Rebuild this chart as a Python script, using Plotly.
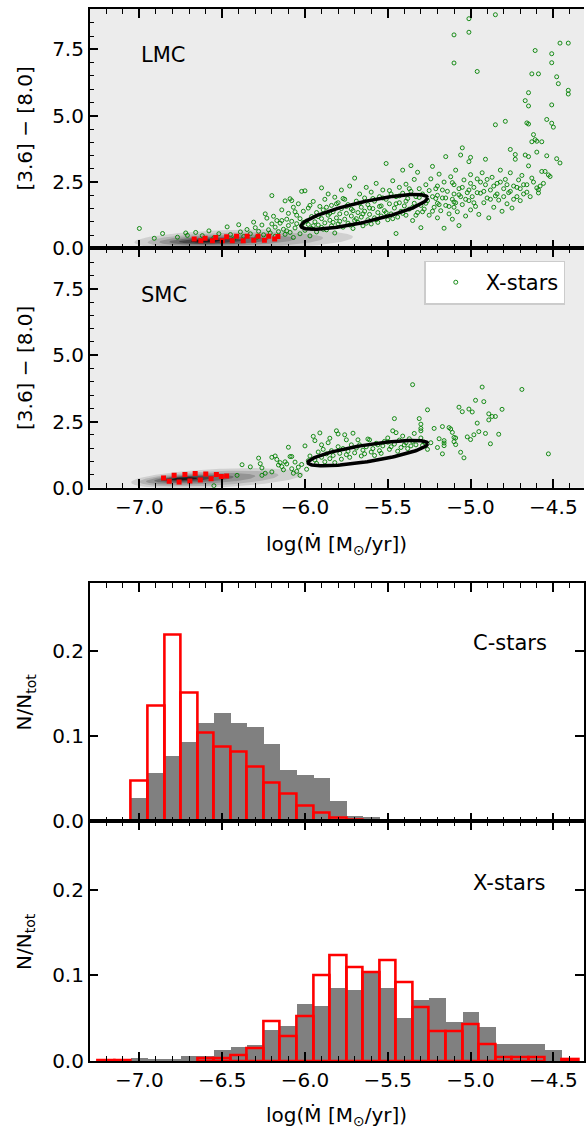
import numpy as np
import plotly.graph_objects as go

# ---------------- data ----------------
# LMC X-stars: (log Mdot, [3.6]-[8.0])
lmc_xstars = [
    (-7.00, 0.75), (-6.91, 0.38), (-6.86, 0.56), (-6.77, 0.42), (-6.72, 0.58), (-6.71, 0.49), (-6.66, 0.60),
    (-6.62, 0.48), (-6.58, 0.66), (-6.55, 0.40), (-6.52, 0.55),
    (-6.47, 0.81), (-6.45, 0.52), (-6.43, 0.36), (-6.40, 0.89), (-6.39, 0.62), (-6.37, 0.45), (-6.35, 0.71),
    (-6.33, 0.55), (-6.31, 0.99), (-6.30, 0.78), (-6.29, 0.42), (-6.28, 0.64), (-6.26, 0.88), (-6.25, 0.51),
    (-6.24, 1.30), (-6.23, 1.14), (-6.22, 0.70), (-6.21, 0.58), (-6.20, 1.99), (-6.20, 0.92), (-6.19, 1.21),
    (-6.18, 0.46), (-6.18, 0.80), (-6.17, 1.05), (-6.16, 0.63),
    (-6.15, 0.95), (-6.14, 1.45), (-6.13, 0.72), (-6.12, 1.79), (-6.12, 0.53), (-6.11, 1.10), (-6.10, 0.86),
    (-6.10, 1.32), (-6.09, 1.87), (-6.09, 0.60), (-6.08, 1.02), (-6.07, 0.41), (-6.07, 1.55), (-6.06, 0.77),
    (-6.05, 1.25), (-6.05, 0.93), (-6.04, 1.68), (-6.03, 0.55), (-6.03, 1.12), (-6.02, 0.84), (-6.01, 1.40),
    (-6.00, 2.17), (-6.00, 0.68), (-5.99, 1.03), (-5.98, 1.52), (-5.98, 0.90), (-5.97, 0.47), (-5.96, 1.20),
    (-5.96, 0.75), (-5.95, 1.77), (-5.94, 1.00), (-5.93, 1.35), (-5.93, 0.62), (-5.92, 0.88), (-5.91, 1.58),
    (-5.90, 2.28), (-5.90, 1.12), (-5.90, 0.79), (-6.08, 1.80), (-6.02, 2.15),
    (-5.89, 1.45), (-5.88, 0.96), (-5.88, 1.85), (-5.87, 0.70), (-5.86, 1.25), (-5.86, 2.05), (-5.85, 1.06),
    (-5.84, 1.62), (-5.84, 0.85), (-5.83, 1.38), (-5.82, 1.93), (-5.82, 0.58), (-5.81, 1.15), (-5.80, 1.72),
    (-5.80, 0.92), (-5.79, 1.30), (-5.78, 2.20), (-5.78, 1.50), (-5.77, 0.80), (-5.76, 1.10), (-5.76, 1.85),
    (-5.75, 1.32), (-5.74, 0.95), (-5.74, 1.65), (-5.73, 2.35), (-5.72, 1.22), (-5.72, 1.48), (-5.71, 0.75),
    (-5.70, 2.65), (-5.70, 1.05), (-5.69, 1.78), (-5.68, 1.35), (-5.68, 0.98), (-5.67, 2.05), (-5.66, 1.55),
    (-5.66, 1.18), (-5.65, 0.85), (-5.64, 1.90), (-5.64, 1.40), (-5.63, 2.30), (-5.62, 1.08), (-5.62, 1.65),
    (-5.61, 1.28), (-5.60, 2.12), (-5.60, 0.92),
    (-5.59, 1.50), (-5.58, 1.78), (-5.58, 1.15), (-5.57, 2.45), (-5.56, 1.35), (-5.56, 0.98), (-5.55, 1.95),
    (-5.54, 1.60), (-5.54, 1.22), (-5.53, 2.20), (-5.52, 1.42), (-5.51, 3.20), (-5.51, 1.85), (-5.50, 1.08),
    (-5.49, 1.68), (-5.48, 2.05), (-5.48, 1.30), (-5.47, 2.55), (-5.46, 1.52), (-5.45, 0.56), (-5.45, 1.95),
    (-5.44, 1.18), (-5.43, 2.30), (-5.43, 1.72), (-5.42, 1.40), (-5.41, 2.95), (-5.41, 2.08), (-5.40, 1.60),
    (-5.39, 1.25), (-5.39, 2.42), (-5.38, 1.88), (-5.37, 1.48), (-5.36, 3.12), (-5.36, 2.15), (-5.35, 1.05),
    (-5.34, 1.70), (-5.34, 2.60), (-5.33, 1.95), (-5.32, 2.87), (-5.32, 1.35), (-5.31, 2.25), (-5.30, 0.78),
    (-5.30, 1.62),
    (-5.29, 2.05), (-5.28, 1.48), (-5.27, 2.40), (-5.26, 1.80), (-5.25, 1.25), (-5.24, 2.62), (-5.23, 3.09),
    (-5.23, 1.95), (-5.22, 1.55), (-5.21, 2.25), (-5.20, 1.15), (-5.20, 1.70), (-5.20, 2.00), (-5.20, 2.35),
    (-5.19, 2.80), (-5.18, 1.42), (-5.17, 1.90), (-5.16, 2.50), (-5.16, 0.76), (-5.15, 3.46), (-5.15, 1.62),
    (-5.14, 2.15), (-5.13, 1.30), (-5.12, 2.70), (-5.11, 1.85), (-5.11, 1.10), (-5.10, 2.05), (-5.10, 2.40),
    (-5.10, 1.55), (-5.10, 1.75), (-5.10, 6.99), (-5.10, 8.05), (-5.09, 2.95), (-5.08, 1.38), (-5.07, 0.86),
    (-5.07, 2.25), (-5.06, 3.52), (-5.06, 1.95), (-5.05, 3.79), (-5.05, 1.65), (-5.04, 2.58), (-5.03, 1.22),
    (-5.02, 2.10), (-5.01, 3.27), (-5.01, 1.80), (-5.00, 2.45), (-5.00, 1.45), (-5.00, 2.78), (-5.00, 3.43),
    (-5.01, 8.66), (-5.01, 8.15),
    (-4.99, 1.95), (-4.98, 2.30), (-4.97, 1.58), (-4.96, 6.67), (-4.96, 2.62), (-4.95, 1.28), (-4.94, 2.08),
    (-4.93, 2.85), (-4.92, 1.72), (-4.91, 3.36), (-4.91, 2.40), (-4.90, 1.90), (-4.89, 1.15), (-4.88, 2.20),
    (-4.87, 2.68), (-4.86, 1.55), (-4.85, 4.66), (-4.85, 1.98), (-4.85, 8.81), (-4.84, 2.45), (-4.83, 1.82),
    (-4.82, 2.95), (-4.81, 1.40), (-4.80, 2.25), (-4.79, 4.79), (-4.79, 2.60), (-4.78, 1.68), (-4.77, 2.10),
    (-4.76, 3.73), (-4.76, 2.85), (-4.75, 1.52), (-4.74, 2.35), (-4.73, 3.54), (-4.73, 3.36), (-4.72, 1.95),
    (-4.71, 2.58), (-4.70, 1.80), (-4.70, 2.25),
    (-4.69, 2.75), (-4.68, 2.05), (-4.67, 5.57), (-4.67, 3.52), (-4.66, 4.73), (-4.66, 2.40), (-4.65, 4.69),
    (-4.65, 3.46), (-4.65, 5.37), (-4.65, 5.87), (-4.65, 3.11), (-4.64, 1.95), (-4.63, 4.02), (-4.63, 6.58),
    (-4.63, 2.65), (-4.62, 4.29), (-4.61, 4.10), (-4.60, 4.04), (-4.60, 3.63), (-4.60, 2.28), (-4.59, 6.58),
    (-4.59, 2.21), (-4.59, 2.09), (-4.57, 2.90), (-4.57, 4.02), (-4.56, 2.45), (-4.54, 4.86), (-4.54, 3.49),
    (-4.53, 2.77), (-4.52, 2.71), (-4.51, 4.72), (-4.51, 7.34), (-4.51, 7.00), (-4.51, 5.41), (-4.50, 4.57),
    (-4.48, 3.38), (-4.48, 6.47), (-4.47, 6.21), (-4.46, 3.22), (-4.46, 7.74), (-4.41, 7.74), (-4.41, 5.96),
    (-4.41, 5.82), (-4.61, 7.46),
    # densest part of the band
    (-6.14, 1.05), (-6.11, 0.66), (-6.06, 1.38), (-6.01, 0.97), (-5.97, 1.62), (-5.95, 0.85), (-5.92, 1.20),
    (-5.89, 0.72), (-5.87, 1.55), (-5.85, 1.32), (-5.83, 0.98), (-5.81, 1.68), (-5.79, 1.02), (-5.77, 1.88),
    (-5.75, 1.58), (-5.73, 0.88), (-5.71, 1.42), (-5.69, 1.12), (-5.67, 1.70), (-5.65, 1.30), (-5.63, 0.95),
    (-5.61, 1.52), (-5.59, 1.88), (-5.57, 1.08), (-5.55, 1.58), (-5.53, 1.90), (-5.51, 1.35), (-5.49, 2.18),
    (-5.47, 1.12), (-5.45, 1.68), (-5.43, 1.98), (-5.41, 1.32), (-5.39, 1.78), (-5.37, 2.25), (-5.35, 1.55),
    (-5.33, 1.25), (-5.31, 1.92), (-5.29, 1.38), (-5.27, 1.70), (-5.25, 2.18), (-5.23, 1.40), (-5.21, 1.88),
    (-5.19, 1.65), (-5.17, 2.20), (-5.15, 1.90), (-5.13, 1.58), (-5.11, 2.48), (-5.09, 1.72), (-5.07, 2.02),
    (-5.05, 2.30), (-5.03, 1.85), (-5.01, 2.20), (-4.98, 1.72), (-4.96, 2.10), (-4.94, 2.50), (-4.92, 2.15),
    (-4.90, 2.60), (-4.88, 1.85), (-4.86, 2.35), (-4.84, 2.05), (-4.82, 2.50), (-4.80, 1.95), (-4.78, 2.40),
    (-4.76, 2.15), (-4.74, 1.85), (-4.72, 2.30), (-4.68, 2.40), (-4.66, 2.12), (-4.62, 2.50), (-4.58, 2.35),
    (-4.55, 2.90),
]

smc_xstars = [
    (-6.55, 0.08), (-6.41, 0.47), (-6.38, 0.87), (-6.33, 0.79), (-6.28, 1.12), (-6.27, 0.91), (-6.26, 0.75),
    (-6.26, 0.47), (-6.24, 0.55), (-6.20, 0.60), (-6.20, 1.15), (-6.18, 1.20), (-6.17, 1.07), (-6.16, 0.86),
    (-6.15, 0.95), (-6.14, 0.80), (-6.13, 0.68), (-6.12, 0.98), (-6.11, 0.90), (-6.10, 1.53), (-6.09, 1.18),
    (-6.08, 1.18), (-6.08, 0.72), (-6.07, 0.55), (-6.06, 0.97), (-6.05, 0.62), (-6.04, 0.78), (-6.03, 0.47),
    (-6.02, 0.88), (-6.00, 1.58), (-5.99, 0.70), (-5.98, 1.02),
    (-5.97, 1.20), (-5.95, 1.94), (-5.94, 1.78), (-5.94, 1.05), (-5.93, 0.92), (-5.92, 1.35), (-5.91, 2.07),
    (-5.90, 1.62), (-5.90, 1.15), (-5.89, 1.45), (-5.88, 0.98), (-5.87, 1.28), (-5.86, 1.70), (-5.85, 1.87),
    (-5.85, 1.10), (-5.84, 1.40), (-5.83, 1.22), (-5.82, 0.95), (-5.81, 2.15), (-5.80, 2.03), (-5.80, 1.55),
    (-5.79, 1.30), (-5.78, 1.08), (-5.77, 1.48), (-5.76, 2.00), (-5.75, 1.81), (-5.75, 1.25), (-5.74, 1.38),
    (-5.73, 1.15), (-5.72, 1.62), (-5.71, 2.06), (-5.70, 1.32), (-5.69, 1.50), (-5.68, 1.81), (-5.67, 1.62),
    (-5.66, 1.20), (-5.65, 1.42), (-5.64, 1.28), (-5.63, 1.55), (-5.62, 1.84), (-5.61, 1.81), (-5.60, 1.35),
    (-5.59, 1.48), (-5.58, 1.22), (-5.57, 1.68), (-5.56, 1.62), (-5.55, 1.40), (-5.54, 1.30), (-5.53, 1.58),
    (-5.52, 1.75), (-5.50, 1.88), (-5.50, 1.72), (-5.49, 1.45), (-5.48, 1.55), (-5.47, 2.15), (-5.46, 2.61),
    (-5.46, 1.65), (-5.45, 2.08), (-5.44, 1.38), (-5.43, 1.80), (-5.42, 1.52), (-5.41, 1.95), (-5.40, 1.62),
    (-5.39, 1.70), (-5.38, 1.48), (-5.37, 1.85), (-5.36, 1.58), (-5.35, 3.89), (-5.35, 1.75), (-5.34, 2.05),
    (-5.33, 1.62), (-5.31, 2.61), (-5.30, 2.40), (-5.30, 2.24), (-5.30, 2.15), (-5.30, 1.88), (-5.29, 1.60),
    (-5.28, 1.72), (-5.26, 2.94), (-5.26, 1.45), (-5.24, 1.70),
    (-5.22, 2.24), (-5.20, 1.52), (-5.19, 1.85), (-5.17, 2.31), (-5.17, 1.28), (-5.16, 1.78), (-5.16, 1.69),
    (-5.16, 1.59), (-5.13, 2.27), (-5.12, 2.22), (-5.11, 2.09), (-5.10, 1.90), (-5.10, 1.74), (-5.09, 1.63),
    (-5.09, 1.88), (-5.07, 3.04), (-5.06, 1.34), (-5.05, 2.87), (-5.04, 1.13), (-5.02, 1.92), (-5.01, 2.97),
    (-5.00, 1.82), (-4.99, 2.86), (-4.98, 2.00), (-4.96, 2.44), (-4.97, 3.30), (-4.95, 2.12), (-4.93, 3.80),
    (-4.92, 3.25), (-4.91, 2.05), (-4.89, 2.79), (-4.89, 2.56), (-4.88, 1.66), (-4.87, 2.69), (-4.85, 2.69),
    (-4.83, 2.02), (-4.81, 2.96), (-4.69, 3.71), (-4.53, 1.28),
]

# red squares (C-star models)
lmc_red_x = [-6.669, -6.629, -6.603, -6.559, -6.539, -6.499, -6.473, -6.439, -6.413,
             -6.373, -6.349, -6.309, -6.283, -6.245, -6.219, -6.183, -6.163]
lmc_red_y = [0.35, 0.29, 0.38, 0.29, 0.41, 0.29, 0.44, 0.29, 0.46, 0.29, 0.46, 0.31, 0.46,
             0.31, 0.46, 0.35, 0.45]
smc_red_x = [-6.854, -6.820, -6.790, -6.760, -6.725, -6.695, -6.663, -6.632, -6.599,
             -6.567, -6.535, -6.505, -6.473]
smc_red_y = [0.37, 0.25, 0.47, 0.22, 0.50, 0.26, 0.54, 0.29, 0.52, 0.34, 0.50, 0.43, 0.45]

# density contour levels (outer -> inner): centre x, centre y, half-width, half-height
kde_colors = ['#d0d0d0', '#b4b4b4', '#949494', '#6e6e6e', '#454545', '#1a1a1a']
lmc_kde_cx = [-6.37, -6.42, -6.47, -6.52, -6.57, -6.60]
lmc_kde_cy = [0.33, 0.31, 0.30, 0.29, 0.28, 0.28]
lmc_kde_a = [0.66, 0.53, 0.41, 0.30, 0.19, 0.09]
lmc_kde_b = [0.38, 0.29, 0.21, 0.15, 0.10, 0.055]
lmc_kde_slope = 0.15
smc_kde_cx = [-6.53, -6.58, -6.63, -6.67, -6.71, -6.73]
smc_kde_cy = [0.36, 0.35, 0.34, 0.34, 0.34, 0.34]
smc_kde_a = [0.52, 0.42, 0.33, 0.24, 0.16, 0.08]
smc_kde_b = [0.35, 0.27, 0.20, 0.14, 0.09, 0.05]
smc_kde_slope = 0.30

# black ellipses (cx, cy, half-width, half-height, slope)
lmc_ellipse = (-5.642, 1.375, 0.382, 0.39, 1.38)
smc_ellipse = (-5.620, 1.310, 0.362, 0.32, 0.98)

# histograms: bin centres (width 0.1)
bin_centers = [-7.2, -7.1, -7.0, -6.9, -6.8, -6.7, -6.6, -6.5, -6.4, -6.3, -6.2, -6.1, -6.0, -5.9, -5.8,
               -5.7, -5.6, -5.5, -5.4, -5.3, -5.2, -5.1, -5.0, -4.9, -4.8, -4.7, -4.6, -4.5, -4.4]
cstars_gray = [None, None, 0.028, 0.057, 0.077, 0.093, 0.116, 0.127, 0.116, 0.111, 0.091, 0.060, 0.054,
               0.051, 0.024, 0.007, 0.005, 0.002, 0.001, 0.001, None, None, None, None, None, None,
               0.002, None, None]
cstars_red = [None, None, 0.048, 0.136, 0.219, 0.151, 0.104, 0.088, 0.082, 0.064, 0.045, 0.032, 0.018,
              0.010, 0.004, 0.002, 0.001, None, 0.001, None, None, None, None, None, None, None,
              None, None, None]
xstars_gray = [0.001, None, 0.003, 0.002, 0.002, 0.005, 0.006, 0.013, 0.016, 0.018, 0.036, 0.041, 0.066,
               0.064, 0.085, 0.0825, 0.102, 0.085, 0.0505, 0.0713, 0.0732, 0.0447, 0.0566, 0.0389, 0.020,
               0.0193, 0.0193, 0.012, None]
xstars_red = [0.001, 0.001, None, None, None, None, 0.0035, 0.0035, 0.0066, 0.015, 0.0466, 0.029, 0.052,
              0.100, 0.124, 0.109, 0.104, 0.1175, 0.092, 0.063, 0.035, 0.035, 0.043, 0.020, 0.004,
              0.004, 0.004, None, 0.002]

XLABEL = 'log(Ṁ [M<sub>⊙</sub>/yr])'
FONT = 'DejaVu Sans'


def ellipse_xy(cx, cy, a, b, slope, n=160):
    t = np.linspace(0, 2 * np.pi, n)
    return cx + a * np.cos(t), cy + slope * a * np.cos(t) + b * np.sin(t)


fig = go.Figure()

# ---------- scatter panels ----------
panels = [
    ('x', 'y', lmc_xstars, lmc_red_x, lmc_red_y,
     (lmc_kde_cx, lmc_kde_cy, lmc_kde_a, lmc_kde_b, lmc_kde_slope), lmc_ellipse, False),
    ('x2', 'y2', smc_xstars, smc_red_x, smc_red_y,
     (smc_kde_cx, smc_kde_cy, smc_kde_a, smc_kde_b, smc_kde_slope), smc_ellipse, True),
]
for xa, ya, pts, rx, ry, kde, ell, show_leg in panels:
    cxs, cys, aas, bbs, slope = kde
    for cx, cy, a, b, col in zip(cxs, cys, aas, bbs, kde_colors):
        ex, ey = ellipse_xy(cx, cy, a, b, slope)
        fig.add_trace(go.Scatter(x=ex, y=ey, mode='lines', fill='toself', fillcolor=col,
                                 line=dict(width=0), hoverinfo='skip', showlegend=False,
                                 xaxis=xa, yaxis=ya))
    fig.add_trace(go.Scatter(
        x=[p[0] for p in pts], y=[p[1] for p in pts], mode='markers', name='X-stars',
        marker=dict(symbol='circle-open', size=4, color='green', line=dict(width=0.9)),
        showlegend=show_leg, xaxis=xa, yaxis=ya))
    fig.add_trace(go.Scatter(x=rx, y=ry, mode='markers',
                             marker=dict(symbol='square', size=5, color='red'),
                             showlegend=False, xaxis=xa, yaxis=ya))
    ex, ey = ellipse_xy(*ell)
    fig.add_trace(go.Scatter(x=ex, y=ey, mode='lines', line=dict(color='black', width=3.5),
                             hoverinfo='skip', showlegend=False, xaxis=xa, yaxis=ya))

# ---------- histogram panels ----------
for xa, ya, gray, red in [('x3', 'y3', cstars_gray, cstars_red), ('x4', 'y4', xstars_gray, xstars_red)]:
    fig.add_trace(go.Bar(x=bin_centers, y=gray, width=0.1, marker=dict(color='#808080', line=dict(width=0)),
                         showlegend=False, xaxis=xa, yaxis=ya))
    fig.add_trace(go.Bar(x=bin_centers, y=red, width=0.1,
                         marker=dict(color='rgba(0,0,0,0)', line=dict(color='red', width=2.6)),
                         showlegend=False, xaxis=xa, yaxis=ya))

# ---------- axes ----------
XDOM = [90 / 586, 1.0]
XRANGE = [-7.30, -4.315]
ydoms = [[0.77982, 0.99211], [0.56754, 0.77982], [0.27193, 0.48333], [0.05939, 0.27193]]


def xaxis_cfg(anchor, labels):
    return dict(domain=XDOM, anchor=anchor, range=XRANGE, showline=True, linewidth=1.5, linecolor='black',
                mirror='ticks', ticks='inside', ticklen=9, tickwidth=1.5, tickcolor='black',
                tick0=-7.0, dtick=0.5, tickformat='.1f', showticklabels=labels,
                showgrid=False, zeroline=False,
                minor=dict(ticks='inside', ticklen=5, tickwidth=1.2, tickcolor='black',
                           tick0=-7.0, dtick=0.1, showgrid=False))


def yaxis_cfg(anchor, dom, scatter):
    cfg = dict(domain=dom, anchor=anchor, showline=True, linewidth=1.5, linecolor='black',
               ticks='inside', ticklen=9, tickwidth=1.5, tickcolor='black', tickformat='.1f',
               showgrid=False, zeroline=False)
    if scatter:
        cfg.update(range=[0, 9.03], tick0=0, dtick=2.5, mirror=False,
                   minor=dict(ticks='inside', ticklen=5, tickwidth=1.2, tickcolor='black',
                              tick0=0, dtick=0.5, showgrid=False))
    else:
        cfg.update(range=[0, 0.28], tick0=0, dtick=0.1, mirror='ticks')
    return cfg


# size comes from the page div, see write_html below
fig.update_layout(
    autosize=True,
    margin=dict(l=0, r=0, t=0, b=0),
    paper_bgcolor='white', plot_bgcolor='white',
    font=dict(family=FONT, size=20, color='black'),
    barmode='overlay', bargap=0,
    xaxis=xaxis_cfg('y', False), yaxis=yaxis_cfg('x', ydoms[0], True),
    xaxis2=xaxis_cfg('y2', True), yaxis2=yaxis_cfg('x2', ydoms[1], True),
    xaxis3=xaxis_cfg('y3', False), yaxis3=yaxis_cfg('x3', ydoms[2], False),
    xaxis4=xaxis_cfg('y4', True), yaxis4=yaxis_cfg('x4', ydoms[3], False),
    legend=dict(x=0.7265, y=0.769, xanchor='left', yanchor='top', bgcolor='white',
                bordercolor='#cccccc', borderwidth=1.5, font=dict(size=21), itemwidth=50),
    shapes=[dict(type='rect', xref='x domain', yref='y domain', x0=0, x1=1, y0=0, y1=1,
                 fillcolor='#ececec', line=dict(width=0), layer='below'),
            dict(type='rect', xref='x2 domain', yref='y2 domain', x0=0, x1=1, y0=0, y1=1,
                 fillcolor='#ececec', line=dict(width=0), layer='below')],
)

annotations = [
    dict(text='LMC', x=-7.0, y=7.28, xref='x', yref='y', xanchor='left', yanchor='middle', size=21),
    dict(text='SMC', x=-7.0, y=7.28, xref='x2', yref='y2', xanchor='left', yanchor='middle', size=21),
    dict(text='C-stars', x=-5.0, y=0.209, xref='x3', yref='y3', xanchor='left', yanchor='middle', size=21),
    dict(text='X-stars', x=-5.0, y=0.208, xref='x4', yref='y4', xanchor='left', yanchor='middle', size=21),
    dict(text='[3.6] − [8.0]', x=25 / 586, y=1 - 130 / 1140, textangle=-90),
    dict(text='[3.6] − [8.0]', x=25 / 586, y=1 - 372 / 1140, textangle=-90),
    dict(text='N/N<sub>tot</sub>', x=25 / 586, y=1 - 709 / 1140, textangle=-90),
    dict(text='N/N<sub>tot</sub>', x=25 / 586, y=1 - 951 / 1140, textangle=-90),
    dict(text=XLABEL, x=338 / 586, y=1 - 551 / 1140),
    dict(text=XLABEL, x=338 / 586, y=1 - 1128 / 1140),
]
for a in annotations:
    a.setdefault('xref', 'paper')
    a.setdefault('yref', 'paper')
    a.setdefault('xanchor', 'center')
    a.setdefault('yanchor', 'middle')
    a['showarrow'] = False
    a['font'] = dict(family=FONT, size=a.pop('size', 20), color='black')
fig.update_layout(annotations=annotations)

# pin the plot div to the page corner so the body margin does not shift it
fig.write_html("out.html", config={'displayModeBar': False},
               default_width="586px; position:absolute; left:0; top:0",
               default_height="1140px")
